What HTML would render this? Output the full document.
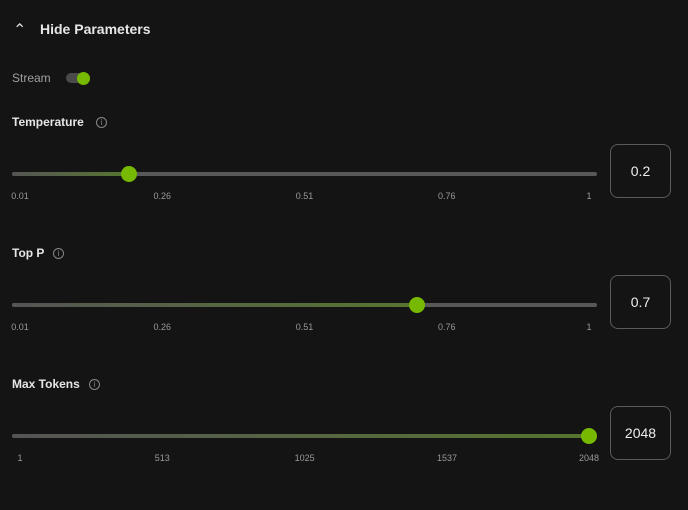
<!DOCTYPE html>
<html><head><meta charset="utf-8"><style>
html,body{margin:0;padding:0;background:#141414;width:688px;height:510px;overflow:hidden;font-family:"Liberation Sans",sans-serif;color:#e8e8e8}
.abs{position:absolute}
.lbl{font-size:12px;font-weight:bold;color:#e6e6e6}
.info{width:9px;height:9px;border:1px solid #888;border-radius:50%;font-size:8px;color:#888;text-align:center;line-height:9px;font-weight:normal}
.track{height:4px;border-radius:2px;background:#585858}
.fill{height:4px;border-radius:2px;background:linear-gradient(90deg,#555,#56752f)}
.thumb{width:16px;height:16px;border-radius:50%;background:#76b900}
.tick{font-size:9px;color:#9a9a9a;transform:translateX(-50%)}
.box{width:59px;height:52px;border:1px solid #5a5a5a;border-radius:8px;font-size:14px;color:#eee;text-align:center;line-height:52px}
</style></head><body>
<div class="abs" style="left:13px;top:20px;font-size:16px;color:#ddd">&#x2303;</div>
<div class="abs" style="left:40px;top:21px;font-size:14px;font-weight:bold;color:#e6e6e6">Hide Parameters</div>
<div class="abs" style="left:12px;top:71px;font-size:12px;color:#a0a0a0">Stream</div>
<div class="abs" style="left:66px;top:73px;width:24px;height:10px;border-radius:5px;background:#4a4a4a"></div>
<div class="abs" style="left:77px;top:72px;width:13px;height:13px;border-radius:50%;background:#76b900"></div>
<div id="root"></div>
<script>
const names=["Temperature","Top P","Max Tokens"];
const values=[0.2,0.7,2048];
const mins=[0.01,0.01,1];
const maxs=[1,1,2048];
const tickLabels=[["0.01","0.26","0.51","0.76","1"],["0.01","0.26","0.51","0.76","1"],["1","513","1025","1537","2048"]];
const tickValues=[[0.01,0.2575,0.505,0.7525,1],[0.01,0.2575,0.505,0.7525,1],[1,513,1025,1537,2048]];
const root=document.getElementById('root');
function mk(cls,style,txt){const d=document.createElement('div');d.className='abs '+cls;d.style.cssText=style;if(txt!==undefined)d.textContent=txt;root.appendChild(d);return d;}
function xpos(v,i){return 20+(v-mins[i])/(maxs[i]-mins[i])*569;}
const tops=[115,246,377];
names.forEach((n,i)=>{
 const t=tops[i];
 const l=mk('lbl','left:12px;top:'+t+'px',n);
 
 
 const w=n.length*7.2+17;
 const inf=mk('info','left:'+w+'px;top:'+(t+2)+'px','i');
 
 
 const ty=t+57;
 const tr=mk('track','left:12px;top:'+ty+'px;width:585px');
 
 
 const x=xpos(values[i],i);
 const f=mk('fill','left:12px;top:'+ty+'px;width:'+(x-12)+'px');
 
 
 const th=mk('thumb','left:'+(x-8)+'px;top:'+(ty-6)+'px');
 
 
 tickLabels[i].forEach((s,k)=>{
  const tk=mk('tick','left:'+xpos(tickValues[i][k],i)+'px;top:'+(ty+19)+'px',s);
  
  
 });
 const b=mk('box','left:610px;top:'+(t+29)+'px',String(values[i]));
 
 
});
</script>
</body></html>
